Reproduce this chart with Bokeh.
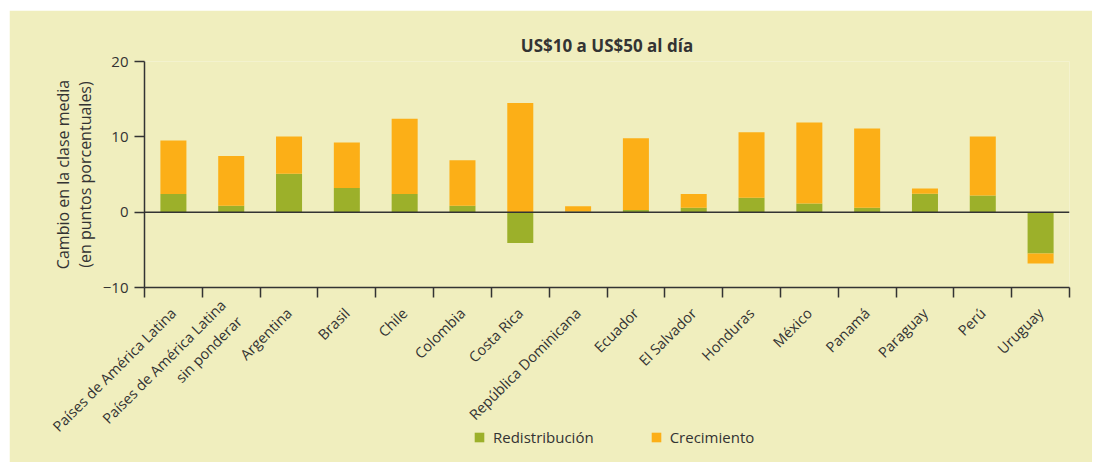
import math
from bokeh.plotting import figure
from bokeh.layouts import column
from bokeh.models import (Range1d, FixedTicker, ColumnDataSource, Span, Legend, LegendItem)
from bokeh.embed import file_html
from bokeh.resources import INLINE

# ---------------- data ----------------
categories = [
    "Países de América Latina",
    "Países de América Latina\nsin ponderar",
    "Argentina", "Brasil", "Chile", "Colombia", "Costa Rica",
    "República Dominicana", "Ecuador", "El Salvador", "Honduras",
    "México", "Panamá", "Paraguay", "Perú", "Uruguay",
]
redistribucion = [2.4, 0.85, 5.1, 3.2, 2.4, 0.85, -4.1, 0.1, 0.3, 0.6, 1.9, 1.15, 0.6, 2.45, 2.2, -5.5]
crecimiento = [7.1, 6.6, 4.95, 6.05, 10.0, 6.05, 14.5, 0.7, 9.5, 1.8, 8.7, 10.75, 10.5, 0.7, 7.85, -1.3]
series_names = ["Redistribución", "Crecimiento"]
y_ticks = [-10, 0, 10, 20]
title_text = "US$10 a US$50 al día"
y_label = "Cambio en la clase media\n(en puntos porcentuales)"

# ---------------- style ----------------
BG = "#F0EEBE"
GREEN = "#9CB02A"
ORANGE = "#FCAF17"
DARK = "#333333"
FONT = "Open Sans"
COLORS = [GREEN, ORANGE]

n = len(categories)
xs = [i + 0.5 for i in range(n)]

# stacking (positive and negative stacks separately)
pos_base = [0.0] * n
neg_base = [0.0] * n
stacks = []
for vals in (redistribucion, crecimiento):
    bottoms, tops = [], []
    for i, v in enumerate(vals):
        if v >= 0:
            b, t = pos_base[i], pos_base[i] + v
            pos_base[i] = t
        else:
            b, t = neg_base[i] + v, neg_base[i]
            neg_base[i] = b
        bottoms.append(b)
        tops.append(t)
    stacks.append((bottoms, tops))

p = figure(width=1083, height=452, output_backend="svg", toolbar_location=None,
           x_range=Range1d(0, n), y_range=Range1d(-10, 20),
           min_border_left=135, min_border_right=23, min_border_top=51, min_border_bottom=175,
           title=title_text)
p.margin = (10, 0, 0, 9)
p.background_fill_color = BG
p.border_fill_color = BG
p.outline_line_color = None
p.xgrid.visible = False
p.ygrid.visible = False

p.title.align = "center"
p.title.text_font = FONT
p.title.text_font_size = "17px"
p.title.text_font_style = "bold"
p.title.text_color = DARK
p.title.standoff = 10

bar_renderers = []
for (bottoms, tops), color in zip(stacks, COLORS):
    src = ColumnDataSource(dict(x=xs, bottom=bottoms, top=tops))
    bar_renderers.append(p.vbar(x="x", bottom="bottom", top="top", width=0.45, source=src,
                                fill_color=color, line_color=None))

p.add_layout(Span(location=0, dimension="width", line_color=DARK, line_width=1.5))

# y axis
ya = p.yaxis[0]
ya.ticker = FixedTicker(ticks=y_ticks)
ya.major_label_overrides = {t: (f"\u2212{abs(t)}" if t < 0 else str(t)) for t in y_ticks}
ya.major_tick_out = 10
ya.major_tick_in = 0
ya.minor_tick_line_color = None
ya.axis_line_color = DARK
ya.axis_line_width = 1.5
ya.major_tick_line_color = DARK
ya.major_tick_line_width = 1.5
ya.major_label_text_font = FONT
ya.major_label_text_font_size = "15px"
ya.major_label_text_color = DARK
ya.major_label_standoff = 6
ya.axis_label = y_label
ya.axis_label_text_font = FONT
ya.axis_label_text_font_size = "16px"
ya.axis_label_text_font_style = "normal"
ya.axis_label_text_color = DARK
ya.axis_label_text_line_height = 1.0
ya.axis_label_standoff = 4

# x axis: category names at centres, boundary ticks as minor ticks
xa = p.xaxis[0]
xa.ticker = FixedTicker(ticks=xs, minor_ticks=list(range(n + 1)))
xa.major_label_overrides = {x: c for x, c in zip(xs, categories)}
xa.major_label_orientation = math.pi / 4
xa.major_tick_line_color = None
xa.major_tick_out = 0
xa.major_tick_in = 0
xa.minor_tick_out = 10
xa.minor_tick_in = 0
xa.minor_tick_line_color = DARK
xa.minor_tick_line_width = 1.5
xa.axis_line_color = DARK
xa.axis_line_width = 1.5
xa.major_label_standoff = 13
xa.major_label_text_font = FONT
xa.major_label_text_font_size = "14.5px"
xa.major_label_text_color = DARK

# legend strip: its own transparent plot laid over the bottom of the chart,
# so that the legend is not clipped by the chart frame
pl = figure(width=1083, height=28, output_backend="svg", toolbar_location=None,
            x_axis_type=None, y_axis_type=None, min_border=0,
            x_range=Range1d(0, 1), y_range=Range1d(0, 1))
try:
    pl.margin = (-38, 0, 0, 9)
except Exception:
    pl.margin = (0, 0, 0, 9)
    pl.styles = {"margin-top": "-38px"}
pl.background_fill_alpha = 0
pl.border_fill_alpha = 0
pl.outline_line_color = None
key_renderers = []
for c in COLORS:
    key_src = ColumnDataSource(dict(x=[float("nan")], top=[float("nan")]))
    key_renderers.append(pl.vbar(x="x", top="top", width=0.1, source=key_src,
                                 fill_color=c, line_color=None))
legend = Legend(items=[LegendItem(label=name, renderers=[r])
                       for name, r in zip(series_names, key_renderers)],
                orientation="horizontal", location=(329, 5),
                glyph_width=12, glyph_height=12, label_standoff=8, spacing=56,
                padding=0, margin=0, label_text_font=FONT, label_text_font_size="15px",
                label_text_color=DARK, background_fill_alpha=0, border_line_color=None)
pl.add_layout(legend)

layout = column(p, pl, spacing=0)
open("out.html", "w").write(file_html(layout, INLINE))
